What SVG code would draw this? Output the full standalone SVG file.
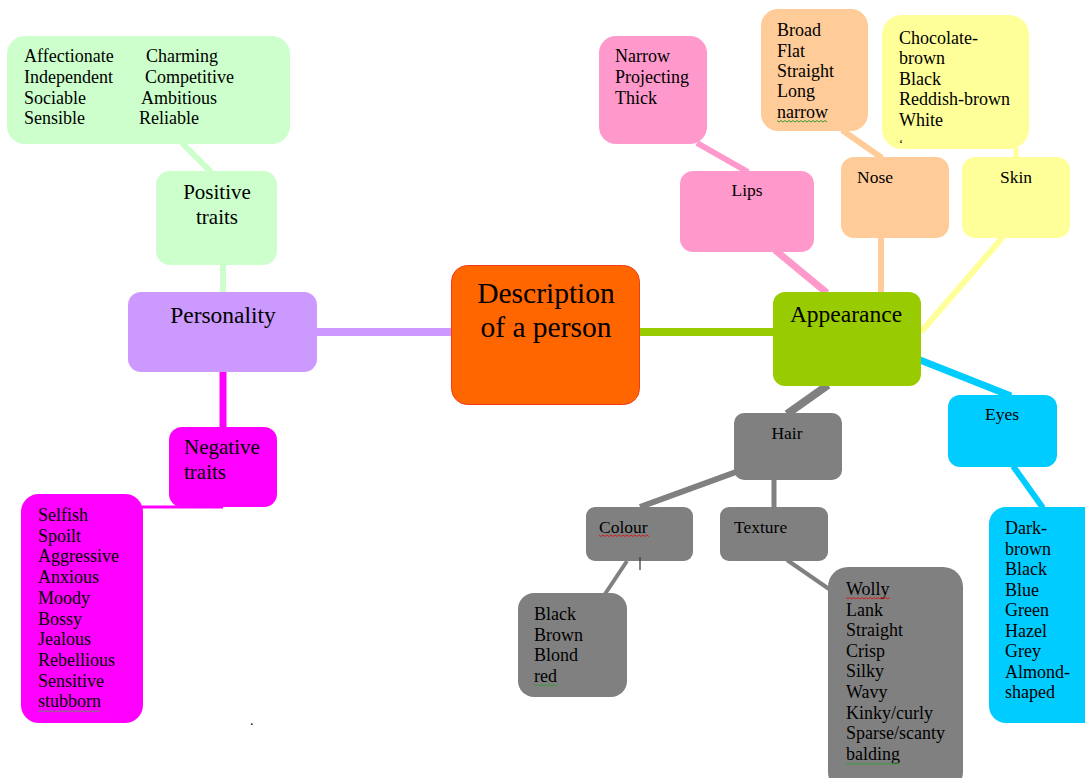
<svg xmlns="http://www.w3.org/2000/svg" width="1085" height="778" viewBox="0 0 1085 778" font-family="'Liberation Serif', 'Times New Roman', 'DejaVu Serif', serif">
<style>
text{font-family:'Liberation Serif','Times New Roman','DejaVu Serif',serif;fill:#000}
.l{font-size:18px}
.c{text-anchor:middle}
.conn{fill:none;stroke-linecap:butt}
.sp{fill:none;stroke-width:1}
</style>
<rect width="1085" height="778" fill="#fff"/>
<g id="connectors" class="conn">
  <line x1="182" y1="143" x2="211" y2="172" stroke="#CCFFCC" stroke-width="6"/>
  <line x1="223" y1="264" x2="223" y2="293" stroke="#CCFFCC" stroke-width="6"/>
  <line x1="316" y1="332" x2="453" y2="332" stroke="#CC99FF" stroke-width="8"/>
  <line x1="223" y1="371" x2="223" y2="428" stroke="#FF00FF" stroke-width="7"/>
  <line x1="142" y1="507" x2="223" y2="507" stroke="#FF00FF" stroke-width="3"/>
  <line x1="639" y1="332" x2="775" y2="332" stroke="#99CC00" stroke-width="8"/>
  <line x1="697" y1="143" x2="748" y2="172" stroke="#FF99CC" stroke-width="6"/>
  <line x1="775" y1="250" x2="827" y2="293" stroke="#FF99CC" stroke-width="7"/>
  <line x1="842" y1="130" x2="882" y2="158" stroke="#FFCC99" stroke-width="6"/>
  <line x1="881" y1="237" x2="881" y2="293" stroke="#FFCC99" stroke-width="6"/>
  <line x1="1016" y1="148" x2="1016" y2="158" stroke="#FFFF99" stroke-width="5"/>
  <line x1="1003" y1="237" x2="921" y2="332" stroke="#FFFF99" stroke-width="6"/>
  <line x1="920" y1="360" x2="1011" y2="396" stroke="#00CCFF" stroke-width="7"/>
  <line x1="1013" y1="466" x2="1043" y2="508" stroke="#00CCFF" stroke-width="6"/>
  <line x1="828" y1="385" x2="787" y2="414" stroke="#808080" stroke-width="8"/>
  <line x1="736" y1="472" x2="640" y2="507" stroke="#808080" stroke-width="6"/>
  <line x1="774" y1="479" x2="774" y2="508" stroke="#808080" stroke-width="5"/>
  <line x1="627" y1="561" x2="605" y2="594" stroke="#808080" stroke-width="4"/>
  <line x1="787" y1="560" x2="829" y2="589" stroke="#808080" stroke-width="4"/>
</g>
<g id="positive-list">
  <rect x="7" y="36" width="283" height="108" rx="18" fill="#CCFFCC"/>
  <text class="l" x="24" y="62">Affectionate</text>
  <text class="l" x="24" y="83">Independent</text>
  <text class="l" x="24" y="104">Sociable</text>
  <text class="l" x="24" y="124">Sensible</text>
  <text class="l" x="146" y="62">Charming</text>
  <text class="l" x="145" y="83">Competitive</text>
  <text class="l" x="141" y="104">Ambitious</text>
  <text class="l" x="139" y="124">Reliable</text>
</g>
<g id="positive">
  <rect x="156" y="171" width="121" height="94" rx="14" fill="#CCFFCC"/>
  <text class="c" x="217" y="199" font-size="21">Positive</text>
  <text class="c" x="217" y="224" font-size="21">traits</text>
</g>
<g id="personality">
  <rect x="128" y="292" width="189" height="80" rx="13" fill="#CC99FF"/>
  <text class="c" x="223" y="323" font-size="23.5">Personality</text>
</g>
<g id="negative">
  <rect x="169" y="427" width="108" height="80" rx="13" fill="#FF00FF"/>
  <text x="184" y="454" font-size="21">Negative</text>
  <text x="184" y="479" font-size="21">traits</text>
</g>
<g id="negative-list">
  <rect x="21" y="494" width="122" height="229" rx="18" fill="#FF00FF"/>
  <text class="l" x="38" y="521">Selfish</text>
  <text class="l" x="38" y="541.7">Spoilt</text>
  <text class="l" x="38" y="562.4">Aggressive</text>
  <text class="l" x="38" y="583.1">Anxious</text>
  <text class="l" x="38" y="603.8">Moody</text>
  <text class="l" x="38" y="624.5">Bossy</text>
  <text class="l" x="38" y="645.2">Jealous</text>
  <text class="l" x="38" y="665.9">Rebellious</text>
  <text class="l" x="38" y="686.6">Sensitive</text>
  <text class="l" x="38" y="707.3">stubborn</text>
</g>
<text x="250" y="725" font-size="14">.</text>
<g id="center">
  <rect x="451.5" y="265.5" width="188" height="139" rx="16" fill="#FF6600" stroke="#F03A1A" stroke-width="1"/>
  <text class="c" x="546" y="303" font-size="29.5">Description</text>
  <text class="c" x="546" y="337" font-size="29.5">of a person</text>
</g>
<g id="appearance">
  <rect x="773" y="292" width="148" height="94" rx="12" fill="#99CC00"/>
  <text class="c" x="846" y="322" font-size="23.5">Appearance</text>
</g>
<g id="lips-list">
  <rect x="599" y="36" width="108" height="108" rx="17" fill="#FF99CC"/>
  <text class="l" x="615" y="62">Narrow</text>
  <text class="l" x="615" y="83">Projecting</text>
  <text class="l" x="615" y="103.5">Thick</text>
</g>
<g id="lips">
  <rect x="680" y="171" width="134" height="81" rx="13" fill="#FF99CC"/>
  <text class="c" x="747" y="196" font-size="17.5">Lips</text>
</g>
<g id="nose-list">
  <rect x="761" y="9" width="107" height="122" rx="17" fill="#FFCC99"/>
  <text class="l" x="777" y="36">Broad</text>
  <text class="l" x="777" y="56.5">Flat</text>
  <text class="l" x="777" y="77">Straight</text>
  <text class="l" x="777" y="97">Long</text>
  <text class="l" x="777" y="117.5">narrow</text>
</g>
<g id="nose">
  <rect x="841" y="157" width="108" height="81" rx="13" fill="#FFCC99"/>
  <text x="857" y="182.5" font-size="17.5">Nose</text>
</g>
<g id="skin-list">
  <rect x="882" y="15" width="147" height="134" rx="20" fill="#FFFF99"/>
  <text class="l" x="899" y="43.5">Chocolate-</text>
  <text class="l" x="899" y="64">brown</text>
  <text class="l" x="899" y="84.5">Black</text>
  <text class="l" x="899" y="105">Reddish-brown</text>
  <text class="l" x="899" y="125.5">White</text>
  <text x="899" y="148" font-size="12">‘</text>
</g>
<g id="skin">
  <rect x="962" y="157" width="108" height="81" rx="13" fill="#FFFF99"/>
  <text class="c" x="1016" y="182.5" font-size="17.5">Skin</text>
</g>
<g id="eyes">
  <rect x="948" y="395" width="109" height="72" rx="12" fill="#00CCFF"/>
  <text class="c" x="1002" y="419.5" font-size="17.5">Eyes</text>
</g>
<g id="eyes-list">
  <rect x="989" y="507" width="115" height="216" rx="17" fill="#00CCFF"/>
  <text class="l" x="1005" y="534">Dark-</text>
  <text class="l" x="1005" y="554.5">brown</text>
  <text class="l" x="1005" y="575">Black</text>
  <text class="l" x="1005" y="595.5">Blue</text>
  <text class="l" x="1005" y="616">Green</text>
  <text class="l" x="1005" y="636.5">Hazel</text>
  <text class="l" x="1005" y="657">Grey</text>
  <text class="l" x="1005" y="677.5">Almond-</text>
  <text class="l" x="1005" y="698">shaped</text>
</g>
<g id="hair">
  <rect x="734" y="413" width="108" height="67" rx="10" fill="#808080"/>
  <text class="c" x="787" y="438.5" font-size="17.5">Hair</text>
</g>
<g id="colour">
  <rect x="586" y="507" width="107" height="54" rx="9" fill="#808080"/>
  <text x="599" y="532.5" font-size="17.5">Colour</text>
</g>
<line x1="640" y1="557" x2="640" y2="570" stroke="#333" stroke-width="1.2"/>
<g id="texture">
  <rect x="720" y="507" width="108" height="54" rx="9" fill="#808080"/>
  <text x="734" y="532.5" font-size="17.5">Texture</text>
</g>
<g id="colour-list">
  <rect x="518" y="593" width="109" height="104" rx="16" fill="#808080"/>
  <text class="l" x="534" y="620">Black</text>
  <text class="l" x="534" y="640.5">Brown</text>
  <text class="l" x="534" y="661">Blond</text>
  <text class="l" x="534" y="681.5">red</text>
</g>
<g id="texture-list">
  <rect x="828" y="567" width="135" height="225" rx="20" fill="#808080"/>
  <text class="l" x="846" y="595">Wolly</text>
  <text class="l" x="846" y="615.6">Lank</text>
  <text class="l" x="846" y="636.2">Straight</text>
  <text class="l" x="846" y="656.8">Crisp</text>
  <text class="l" x="846" y="677.4">Silky</text>
  <text class="l" x="846" y="698">Wavy</text>
  <text class="l" x="846" y="718.6">Kinky/curly</text>
  <text class="l" x="846" y="739.2">Sparse/scanty</text>
  <text class="l" x="846" y="759.8">balding</text>
</g>
<g id="spellcheck">
  <path class="sp" stroke="#D02020" d="M599 535 l2 1.5 l2 -1.5 l2 1.5 l2 -1.5 l2 1.5 l2 -1.5 l2 1.5 l2 -1.5 l2 1.5 l2 -1.5 l2 1.5 l2 -1.5 l2 1.5 l2 -1.5 l2 1.5 l2 -1.5 l2 1.5 l2 -1.5 l2 1.5 l2 -1.5 l2 1.5 l2 -1.5 l2 1.5 l2 -1.5 l2 1.5"/>
  <path class="sp" stroke="#D02020" d="M846 597.5 l2 1.5 l2 -1.5 l2 1.5 l2 -1.5 l2 1.5 l2 -1.5 l2 1.5 l2 -1.5 l2 1.5 l2 -1.5 l2 1.5 l2 -1.5 l2 1.5 l2 -1.5 l2 1.5 l2 -1.5 l2 1.5 l2 -1.5 l2 1.5 l2 -1.5 l2 1.5 l2 -1.5"/>
  <path class="sp" stroke="#3A9A3A" d="M777 120.5 l2 1.5 l2 -1.5 l2 1.5 l2 -1.5 l2 1.5 l2 -1.5 l2 1.5 l2 -1.5 l2 1.5 l2 -1.5 l2 1.5 l2 -1.5 l2 1.5 l2 -1.5 l2 1.5 l2 -1.5 l2 1.5 l2 -1.5 l2 1.5 l2 -1.5 l2 1.5 l2 -1.5 l2 1.5 l2 -1.5 l2 1.5"/>
  <path class="sp" stroke="#3A9A3A" d="M846 763 l2 1.5 l2 -1.5 l2 1.5 l2 -1.5 l2 1.5 l2 -1.5 l2 1.5 l2 -1.5 l2 1.5 l2 -1.5 l2 1.5 l2 -1.5 l2 1.5 l2 -1.5 l2 1.5 l2 -1.5 l2 1.5 l2 -1.5 l2 1.5 l2 -1.5 l2 1.5 l2 -1.5 l2 1.5 l2 -1.5 l2 1.5 l2 -1.5 l2 1.5"/>
  <path class="sp" stroke="#3A9A3A" d="M534 684.5 l2 1.5 l2 -1.5 l2 1.5 l2 -1.5 l2 1.5 l2 -1.5 l2 1.5 l2 -1.5 l2 1.5 l2 -1.5 l2 1.5 l2 -1.5"/>
  <path class="sp" stroke="#6A8A6A" d="M38 710.5 l2 1.5 l2 -1.5 l2 1.5 l2 -1.5 l2 1.5 l2 -1.5 l2 1.5 l2 -1.5 l2 1.5 l2 -1.5 l2 1.5 l2 -1.5 l2 1.5 l2 -1.5 l2 1.5 l2 -1.5 l2 1.5 l2 -1.5 l2 1.5 l2 -1.5 l2 1.5 l2 -1.5 l2 1.5 l2 -1.5 l2 1.5 l2 -1.5 l2 1.5 l2 -1.5 l2 1.5 l2 -1.5 l2 1.5"/>
</g>
</svg>
